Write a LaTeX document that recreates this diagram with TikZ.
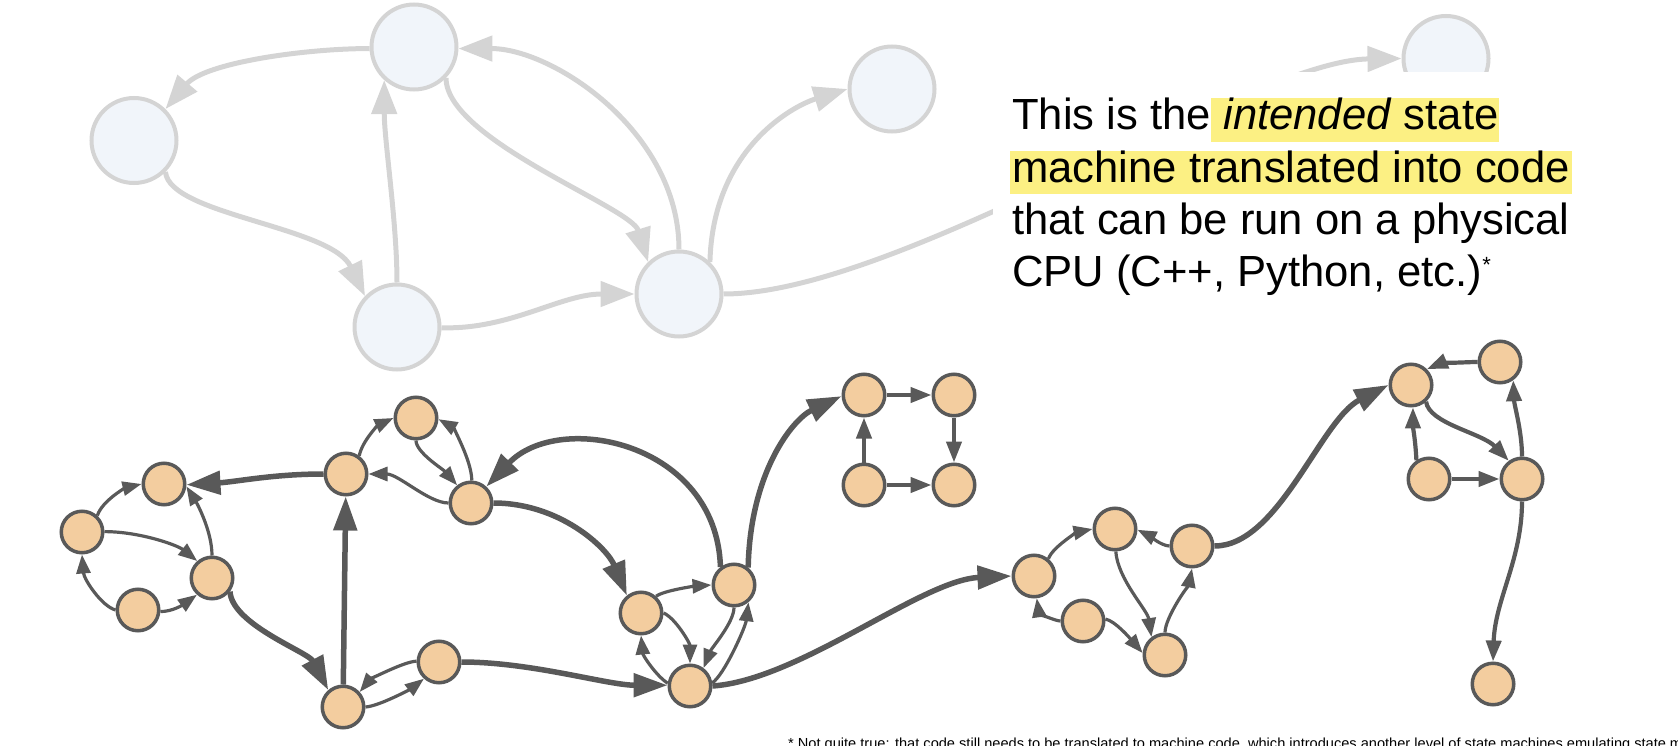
\documentclass[tikz,border=0pt]{standalone}
\usepackage{fontspec}
\setmainfont{Liberation Sans}
\usetikzlibrary{arrows.meta}

\definecolor{ghostline}{HTML}{D4D4D4}
\definecolor{ghostfill}{HTML}{F1F5FA}
\definecolor{ink}{HTML}{595959}
\definecolor{peach}{HTML}{F3CD9F}
\definecolor{marker}{HTML}{FCF083}

\begin{document}
\begin{tikzpicture}[x=1pt,y=-1pt,
  gstate/.style={circle, draw=ghostline, fill=ghostfill, line width=4pt,
    minimum size=85pt, inner sep=0pt},
  gedge/.style={draw=ghostline, line width=5pt,
    -{Triangle[length=34pt,width=25pt]}},
  ostate/.style={circle, draw=ink, fill=peach, line width=3.5pt,
    minimum size=41.5pt, inner sep=0pt},
  thinedge/.style={draw=ink, line width=3.2pt,
    -{Triangle[length=19pt,width=14pt]}},
  midedge/.style={draw=ink, line width=4.2pt,
    -{Triangle[length=21pt,width=15pt]}},
  thickedge/.style={draw=ink, line width=5.5pt,
    -{Triangle[length=34pt,width=23pt]}},
  caption/.style={font=\fontsize{43.6}{52.3}\selectfont, inner sep=0pt,
    anchor=base west},
  marked/.style={caption, fill=marker, text height=31.5pt, text depth=12pt},
]
\useasboundingbox (0,0) rectangle (1678,746);
\clip (0,0) rectangle (1678,746);

% ---------- the intended (abstract) state machine, drawn faint ----------
\node[gstate] (A) at (414,47) {};
\node[gstate] (B) at (134,140.5) {};
\node[gstate] (C) at (397,327) {};
\node[gstate] (D) at (679,294) {};
\node[gstate] (E) at (892,89) {};
\node[gstate] (F) at (1446,58.5) {};

\draw[gedge] (A.182) .. controls +(-66,0) and +(39,-46) .. (B.45);
\draw[gedge] (B.-45) .. controls +(4,43) and +(-34,-70) .. (C.136);
\draw[gedge] (C.90) .. controls +(0,-60) and +(0,60) .. (A.228);
\draw[gedge] (A.-44) .. controls +(0,62) and +(-17,-55) .. (D.134);
\draw[gedge] (D.90) .. controls +(0,-118) and +(94,0) .. (A.-2);
\draw[gedge] (C.-1) .. controls +(69,2) and +(-74,0) .. (D.180);
\draw[gedge] (D.46) .. controls +(3,-113) and +(-55,17) .. (E.180);
\draw[gedge] (D.0) .. controls +(177,0) and +(-152,2) .. (F.180);

% ---------- caption panel ----------
\fill[white] (993,72) rectangle (1678,330);

\node[caption] (t1a) at (1012,130) {This is the};
\node[marked] (t1b) at (t1a.base east) {\ \textit{intended} state\ };
\node[marked, inner xsep=2pt] (t2) at (1010,182.3) {machine translated into code};
\node[caption] (t3) at (1012,234.6) {that can be run on a physical};
\node[caption] (t4) at (1012,286.9)
  {CPU (C++, Python, etc.)\raisebox{14pt}{\fontsize{22}{22}\selectfont *}};

% ---------- the machine as actually implemented ----------
\node[ostate] (n1) at (164,484) {};
\node[ostate] (n2) at (82,532) {};
\node[ostate] (n3) at (212,578) {};
\node[ostate] (n4) at (138,610) {};
\node[ostate] (n5) at (346,474) {};
\node[ostate] (n6) at (416,418) {};
\node[ostate] (n7) at (471,503) {};
\node[ostate] (n8) at (343,707) {};
\node[ostate] (n9) at (439,662) {};
\node[ostate] (n10) at (641,613) {};
\node[ostate] (n11) at (734,585) {};
\node[ostate] (n12) at (690,686) {};
\node[ostate] (n13) at (864,395) {};
\node[ostate] (n14) at (954,395) {};
\node[ostate] (n15) at (864,485) {};
\node[ostate] (n16) at (954,485) {};
\node[ostate] (n17) at (1034,576) {};
\node[ostate] (n18) at (1115,529) {};
\node[ostate] (n19) at (1192,546) {};
\node[ostate] (n20) at (1083,621) {};
\node[ostate] (n21) at (1165,655) {};
\node[ostate] (n22) at (1411,385) {};
\node[ostate] (n23) at (1500,362) {};
\node[ostate] (n24) at (1429,479) {};
\node[ostate] (n25) at (1522,479) {};
\node[ostate] (n26) at (1493,684) {};

% left cluster
\draw[thinedge] (n2.47) .. controls +(5,-15) and +(-16,4) .. (n1.180);
\draw[thinedge] (n2.1) .. controls +(35,0) and +(-20,-16) .. (n3.131);
\draw[thinedge] (n4.180) .. controls +(-14,-4) and +(2,25) .. (n2.-90);
\draw[thinedge] (n4.-4) .. controls +(12,0) and +(-14,10) .. (n3.228);
\draw[thinedge] (n3.90) .. controls +(0,-25) and +(10,16) .. (n1.-6);
\draw[thickedge] (n5.180) .. controls +(-50,0) and +(50,-3) .. (n1.-2);
\draw[thickedge] (n3.-37) .. controls +(2,33) and +(-20,-38) .. (n8.131);
\draw[thickedge] (n8) -- (n5);

% middle cluster
\draw[thinedge] (n8.0) .. controls +(14,-1) and +(-13,10) .. (n9.228);
\draw[thinedge] (n9.178) .. controls +(-12,0) and +(10,-12) .. (n8.42);
\draw[thinedge] (n5.54) .. controls +(3,-15) and +(-15,7) .. (n6.180);
\draw[thinedge] (n6.-90) .. controls +(0,12) and +(-14,-16) .. (n7.128);
\draw[thinedge] (n7.88) .. controls +(0,-20) and +(14,8) .. (n6.-3);
\draw[thinedge] (n7.180) .. controls +(-20,0) and +(30,0) .. (n5.0);
\draw[thickedge] (n11.127) .. controls +(-4,-125) and +(73,-76) .. (n7.47);
\draw[thickedge] (n7.0) .. controls +(66,0) and +(-20,-48) .. (n10.129);
\draw[thickedge] (n9.0) .. controls +(70,0) and +(-60,0) .. (n12.178);
\draw[thinedge] (n10.48) .. controls +(8,-6) and +(-15,1) .. (n11.180);
\draw[thinedge] (n10.0) .. controls +(12,5) and +(0,-20) .. (n12.90);
\draw[thinedge] (n12.173) .. controls +(-12,-8) and +(2,20) .. (n10.-90);
\draw[thinedge] (n11.-90) .. controls +(0,15) and +(8,-20) .. (n12.53);
\draw[thinedge] (n12.8) .. controls +(12,-8) and +(-3,25) .. (n11.-50);
\draw[thickedge] (n12.0) .. controls +(87,-6) and +(-90,4) .. (n17.180);
\draw[thickedge] (n11.51) .. controls +(2,-95) and +(-49,23) .. (n13.183);

% square
\draw[midedge] (n13) -- (n14);
\draw[midedge] (n15) -- (n13);
\draw[midedge] (n15) -- (n16);
\draw[midedge] (n14) -- (n16);

% middle-right cluster
\draw[thinedge] (n17.50) .. controls +(4,-12) and +(-14,3) .. (n18.180);
\draw[thinedge] (n19.180) .. controls +(-8,0) and +(10,5) .. (n18.-2);
\draw[thinedge] (n18.-88) .. controls +(2,28) and +(-4,-27) .. (n21.127);
\draw[thinedge] (n20.180) .. controls +(-6,0) and +(2,14) .. (n17.-83);
\draw[thinedge] (n20.5) .. controls +(10,2) and +(-12,-14) .. (n21.175);
\draw[thinedge] (n21.90) .. controls +(0,-15) and +(-3,15) .. (n19.-90);
\draw[thickedge] (n19.0) .. controls +(64,0) and +(-68,35) .. (n22.180);

% right cluster
\draw[midedge] (n23.180) .. controls +(-12,0) and +(12,-5) .. (n22.45);
\draw[midedge] (n24.124) .. controls +(-1,-20) and +(0,20) .. (n22.-85);
\draw[midedge] (n22.-48) .. controls +(3,22) and +(-27,-28) .. (n25.126);
\draw[midedge] (n24) -- (n25);
\draw[midedge] (n25.90) .. controls +(0,-25) and +(1,25) .. (n23.-54);
\draw[midedge] (n25.-90) .. controls +(0,58) and +(2,-62) .. (n26.90);

% footnote
\node[anchor=base west, inner sep=0pt, font=\fontsize{14.6}{17}\selectfont]
  (note) at (788,748.4)
  {* Not quite true: that code still needs to be translated to machine code, which introduces another level of state machines emulating state machines};
\end{tikzpicture}
\end{document}
